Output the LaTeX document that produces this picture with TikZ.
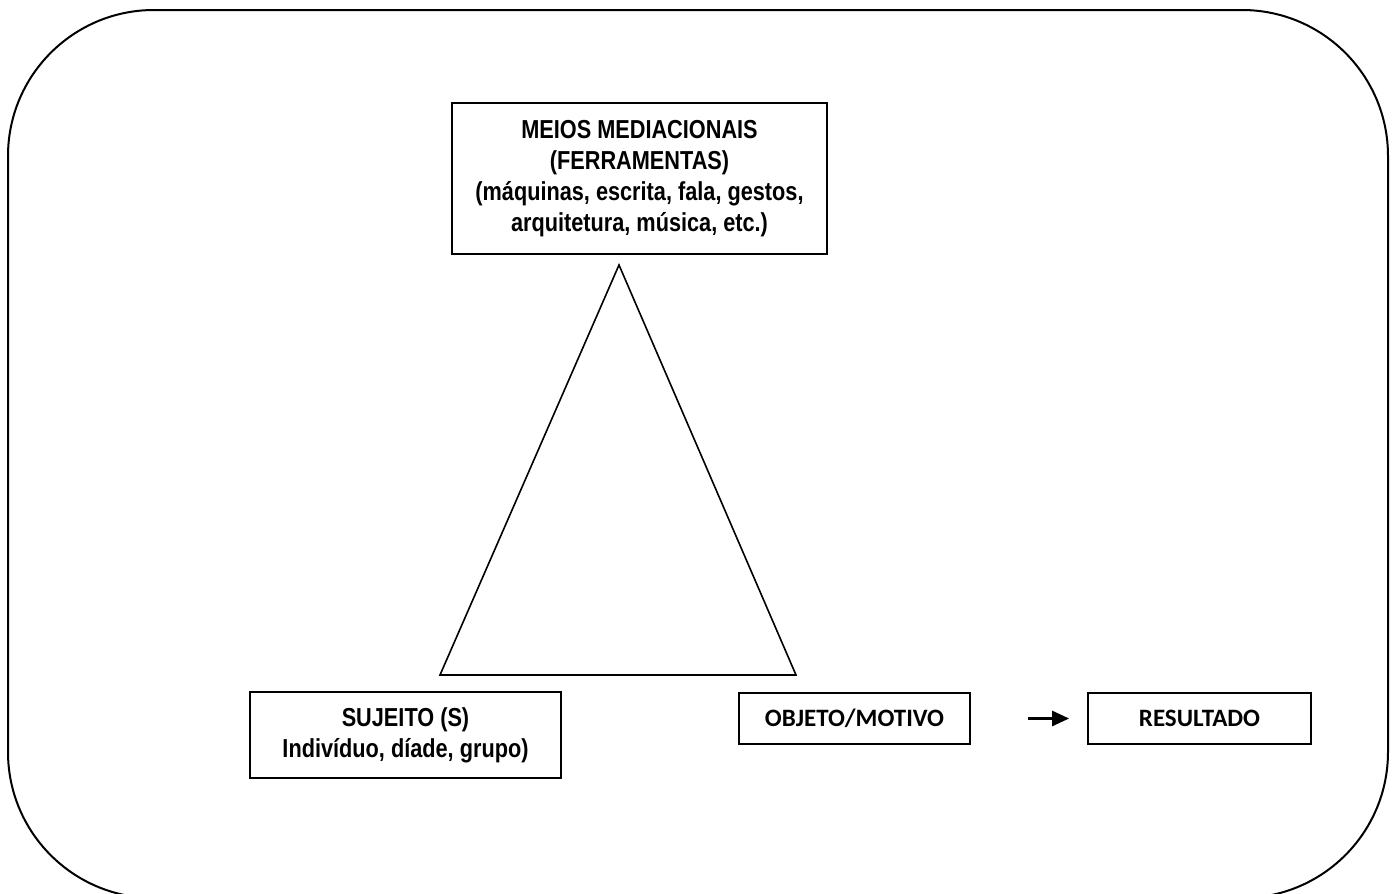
\documentclass[tikz,border=0pt]{standalone}
\usepackage{fontspec}
\usetikzlibrary{arrows.meta}
\newfontfamily\narrowfont[FakeStretch=0.835]{Liberation Sans}
\newfontfamily\calfont{Carlito}

\begin{document}
\begin{tikzpicture}[x=0.5pt,y=-0.5pt,
  caixa/.style={draw,line width=0.9pt,inner sep=0pt,align=center,
    font=\narrowfont\bfseries\fontsize{13}{15.5}\selectfont},
  caixacal/.style={caixa,font=\calfont\bfseries\fontsize{12.5}{15}\selectfont}]
\useasboundingbox (0,0) rectangle (1399,894);
\begin{scope}
\clip (0,0) rectangle (1399,894);
\draw[line width=1pt,rounded corners=73pt] (8,10) rectangle (1388,898);
\end{scope}
\draw[line width=0.8pt] (619,265) -- (440,675) -- (796,675) -- cycle;
\node[caixa,minimum width=187.5pt,minimum height=75.5pt] (meios) at (639.5,178.5)
  {MEIOS MEDIACIONAIS\\(FERRAMENTAS)\\(máquinas, escrita, fala, gestos,\\arquitetura, música, etc.)};
\node[caixa,minimum width=155.5pt,minimum height=43pt] (sujeito) at (405.5,735)
  {SUJEITO (S)\\Indivíduo, díade, grupo)};
\node[caixacal,minimum width=115.5pt,minimum height=25.5pt] (objeto) at (854.5,718.5)
  {OBJETO/MOTIVO};
\node[caixacal,minimum width=111.5pt,minimum height=25.5pt] (resultado) at (1199.5,718.5)
  {RESULTADO};
\draw[line width=1.4pt,-{Triangle[length=8.5pt,width=7.5pt]},shorten <=28.5pt,shorten >=9pt]
  (objeto) -- (resultado);
\end{tikzpicture}
\end{document}
